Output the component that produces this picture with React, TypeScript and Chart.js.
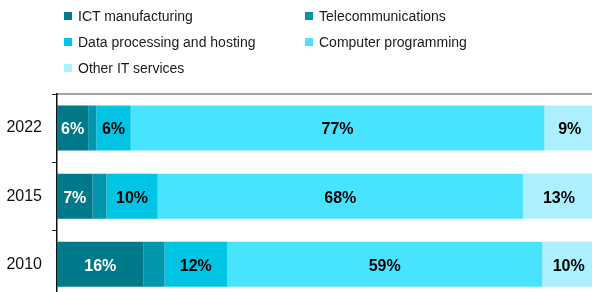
import React, { useEffect, useRef } from "react";
import { Chart, registerables } from "chart.js";

Chart.register(...registerables);

const years = ["2022", "2015", "2010"];
const seriesNames = [
  "ICT manufacturing",
  "Telecommunications",
  "Data processing and hosting",
  "Computer programming",
  "Other IT services",
];
const ictManufacturing = [5.8, 6.6, 16.1];
const telecommunications = [1.5, 2.6, 3.9];
const dataProcessing = [6.4, 9.5, 11.6];
const computerProgramming = [76.9, 67.9, 58.6];
const otherIT = [9.4, 13.4, 9.8];

const seriesValues = [ictManufacturing, telecommunications, dataProcessing, computerProgramming, otherIT];
const colors = ["#00798B", "#0096AE", "#00C4E4", "#48E4FF", "#ACF0FF"];
const labelColors = ["#ffffff", "#ffffff", "#000000", "#000000", "#000000"];
const FONT = "'Liberation Sans', Arial, sans-serif";

const labelPlugin = {
  id: "segLabels",
  afterDatasetsDraw(chart: any) {
    const ctx = chart.ctx;
    ctx.save();
    ctx.font = `bold 16px ${FONT}`;
    ctx.textAlign = "center";
    ctx.textBaseline = "middle";
    chart.data.datasets.forEach((ds: any, di: number) => {
      const meta = chart.getDatasetMeta(di);
      meta.data.forEach((el: any, i: number) => {
        const v = ds.data[i];
        if (v < 5) return;
        const p = el.getProps(["x", "base", "y"], true);
        ctx.fillStyle = labelColors[di];
        ctx.fillText(Math.round(v) + "%", (p.x + p.base) / 2, p.y + 2);
      });
    });
    ctx.restore();
  },
};

export default function App() {
  const ref = useRef<HTMLCanvasElement>(null);
  useEffect(() => {
    if (!ref.current) return;
    const chart = new Chart(ref.current, {
      type: "bar",
      data: {
        labels: years,
        datasets: seriesNames.map((name, i) => ({
          label: name,
          data: seriesValues[i],
          backgroundColor: colors[i],
          borderWidth: 0,
          categoryPercentage: 1,
          barPercentage: 0.66,
        })),
      },
      options: {
        indexAxis: "y",
        responsive: false,
        animation: false,
        layout: { padding: { top: 94, left: 6, right: 5, bottom: 1 } },
        plugins: { legend: { display: false }, tooltip: { enabled: false } },
        scales: {
          x: {
            stacked: true,
            position: "top",
            min: 0,
            max: 100,
            ticks: { display: false },
            grid: { display: false, drawTicks: false },
            border: { display: true, color: "#A6A6A6", width: 2 },
          },
          y: {
            stacked: true,
            afterFit: (scale: any) => {
              scale.width = 51;
            },
            ticks: { color: "#111", font: { family: FONT, size: 16 }, padding: 10 },
            grid: { drawOnChartArea: false, drawTicks: true, tickLength: 5, color: "#222", offset: true },
            border: { display: true, color: "#111", width: 1.5 },
          },
        },
      },
      plugins: [labelPlugin],
    });
    return () => chart.destroy();
  }, []);

  const legendPos = [
    [64, 16],
    [305, 16],
    [64, 42],
    [305, 42],
    [64, 68],
  ];

  return (
    <div style={{ position: "absolute", left: 0, top: 0, width: 592, height: 292, overflow: "hidden", background: "#fff" }}>
      <canvas ref={ref} width={600} height={318} style={{ position: "absolute", left: 0, top: 0, width: 600, height: 318 }} />
      {seriesNames.map((name, i) => (
        <div
          key={name}
          style={{
            position: "absolute",
            left: legendPos[i][0],
            top: legendPos[i][1] - 10,
            height: 20,
            display: "flex",
            alignItems: "center",
            fontFamily: FONT,
            fontSize: 14,
            color: "#1a1a1a",
            whiteSpace: "nowrap",
          }}
        >
          <span style={{ display: "inline-block", width: 8, height: 8, background: colors[i], marginRight: 6 }} />
          {name}
        </div>
      ))}
    </div>
  );
}
